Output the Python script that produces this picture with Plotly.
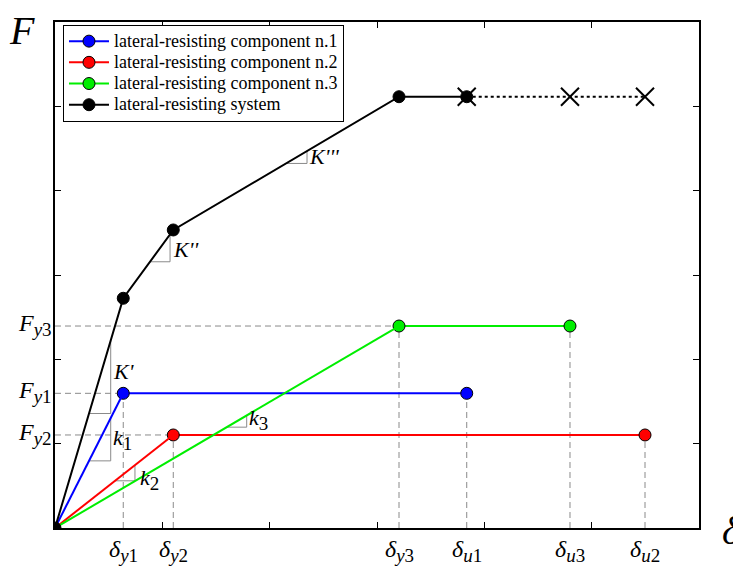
import numpy as np
import plotly.graph_objects as go

# ---- data ----
d_y1, d_y2, d_y3 = 0.636, 1.102, 3.205
d_u1, d_u3, d_u2 = 3.836, 4.798, 5.497
F_y1, F_y2, F_y3 = 1.597, 1.103, 2.395

comp1_x = [0, d_y1, d_u1]
comp1_y = [0, F_y1, F_y1]
comp2_x = [0, d_y2, d_u2]
comp2_y = [0, F_y2, F_y2]
comp3_x = [0, d_y3, d_u3]
comp3_y = [0, F_y3, F_y3]
sys_x = [0, d_y1, d_y2, d_y3, d_u1]
sys_y = [0, 2.724, 3.534, 5.114, 5.114]
sys_ext_x = [d_u1, d_u3, d_u2]
sys_ext_y = [5.114, 5.114, 5.114]

x_tick_pos = [d_y1, d_y2, d_y3, d_u1, d_u3, d_u2]
x_tick_text = ["y1", "y2", "y3", "u1", "u3", "u2"]
y_tick_pos = [F_y3, F_y1, F_y2]
y_tick_text = ["y3", "y1", "y2"]

legend_names = ["lateral-resisting component n.1", "lateral-resisting component n.2",
                "lateral-resisting component n.3", "lateral-resisting system"]
colors = ["#0000ff", "#ff0000", "#00ee00", "#000000"]

# slope triangles: label, subscript, curve, x start, x end, label x, label y
tri_names = ["K'", "k", "k", "k", "K''", "K'''"]
tri_subs = ["", "1", "2", "3", "", ""]
tri_curve = ["sys", "c1", "c2", "c3", "sys", "sys"]
tri_x0 = [0.317, 0.317, 0.559, 1.600, 0.885, 2.152]
tri_x1 = [0.519, 0.519, 0.745, 1.786, 1.072, 2.348]
tri_lx = [0.525, 0.525, 0.775, 1.790, 1.080, 2.345]
tri_ly = [1.86, 1.05, 0.57, 1.29, 3.30, 4.40]

curves = {"sys": (sys_x, sys_y), "c1": (comp1_x, comp1_y),
          "c2": (comp2_x, comp2_y), "c3": (comp3_x, comp3_y)}

FONT = "Liberation Serif, Times New Roman, serif"
GUIDE = "#8a8a8a"


def sub(t, size):
    return "<sub><span style='font-size:%dpx'>%s</span></sub>" % (size, t)


def leg(t):
    return "<span style='font-size:18px'>%s</span>" % t


fig = go.Figure()

# dashed guides
pts = [(d_y1, F_y1), (d_y2, F_y2), (d_y3, F_y3)]
for (px, py) in pts:
    fig.add_trace(go.Scatter(x=[0, px], y=[py, py], mode="lines", showlegend=False,
                             line=dict(color=GUIDE, width=1, dash="6px,4px"), hoverinfo="skip"))
vpts = [(d_y1, F_y1), (d_y2, F_y2), (d_y3, F_y3), (d_u1, F_y1), (d_u3, F_y3), (d_u2, F_y2)]
for (px, py) in vpts:
    fig.add_trace(go.Scatter(x=[px, px], y=[0, py], mode="lines", showlegend=False,
                             line=dict(color=GUIDE, width=1, dash="6px,4px"), hoverinfo="skip"))

# slope triangles
for cv, x0, x1 in zip(tri_curve, tri_x0, tri_x1):
    cx, cy = curves[cv]
    ya = float(np.interp(x0, cx, cy))
    yb = float(np.interp(x1, cx, cy))
    fig.add_trace(go.Scatter(x=[x0, x1, x1], y=[ya, ya, yb], mode="lines", showlegend=False,
                             line=dict(color=GUIDE, width=1), hoverinfo="skip"))

# components
for xs, ys, c, nm in [(comp1_x, comp1_y, colors[0], legend_names[0]),
                      (comp2_x, comp2_y, colors[1], legend_names[1]),
                      (comp3_x, comp3_y, colors[2], legend_names[2])]:
    fig.add_trace(go.Scatter(x=xs[1:], y=ys[1:], mode="lines+markers", name=leg(nm),
                             line=dict(color=c, width=2),
                             marker=dict(color=c, size=12, line=dict(color="black", width=1))))
    fig.add_trace(go.Scatter(x=xs[:2], y=ys[:2], mode="lines", showlegend=False,
                             line=dict(color=c, width=2)))

# system
fig.add_trace(go.Scatter(x=sys_ext_x, y=sys_ext_y, mode="lines", showlegend=False,
                         line=dict(color="black", width=2, dash="dot")))
fig.add_trace(go.Scatter(x=sys_x, y=sys_y, mode="lines+markers", name=leg(legend_names[3]),
                         line=dict(color="black", width=2),
                         marker=dict(color="black", size=12, line=dict(color="black", width=1))))
fig.add_trace(go.Scatter(x=sys_ext_x, y=sys_ext_y, mode="markers", showlegend=False,
                         marker=dict(symbol="x-thin-open", size=18, color="black",
                                     line=dict(color="black", width=2))))

ann = []
for name, s, lx, ly in zip(tri_names, tri_subs, tri_lx, tri_ly):
    txt = "<i>%s</i>" % name + (sub(s, 19) if s else "")
    ann.append(dict(x=lx, y=ly, xref="x", yref="y", text=txt, showarrow=False,
                    xanchor="left", yanchor="middle",
                    font=dict(family=FONT, size=22, color="black")))
for px, t in zip(x_tick_pos, x_tick_text):
    ann.append(dict(x=px, y=0, xref="x", yref="paper",
                    text="<i>δ</i>" + sub("<i>%s</i>%s" % (t[0], t[1]), 19),
                    showarrow=False, xanchor="center", yanchor="top", yshift=-6,
                    font=dict(family=FONT, size=24, color="black")))
for py, t in zip(y_tick_pos, y_tick_text):
    ann.append(dict(x=0, y=py, xref="paper", yref="y",
                    text="<i>F</i>" + sub("<i>%s</i>%s" % (t[0], t[1]), 19),
                    showarrow=False, xanchor="right", yanchor="middle", xshift=-1, yshift=1,
                    font=dict(family=FONT, size=24, color="black")))
# axis names
ann.append(dict(x=0, y=1, xref="paper", yref="paper", text="<i>F</i>", showarrow=False,
                xanchor="right", yanchor="top", xshift=-18, yshift=16,
                font=dict(family=FONT, size=40, color="black")))
ann.append(dict(x=1, y=0, xref="paper", yref="paper", text="<i>δ</i>", showarrow=False,
                xanchor="left", yanchor="middle", xshift=21, yshift=-2,
                font=dict(family=FONT, size=40, color="black")))

axis_common = dict(range=[0, 6], tickvals=[0, 1, 2, 3, 4, 5, 6], showticklabels=False,
                   ticks="inside", ticklen=6, tickwidth=1, tickcolor="black",
                   showline=True, linecolor="black", linewidth=1.5, mirror="ticks",
                   showgrid=False, zeroline=False, fixedrange=True)

fig.update_layout(
    width=741, height=574,
    margin=dict(l=47, r=50, t=14, b=54),
    paper_bgcolor="white", plot_bgcolor="white",
    xaxis=axis_common, yaxis=axis_common,
    font=dict(family=FONT, size=18, color="black"),
    legend=dict(x=0.0124, y=0.995, xanchor="left", yanchor="top",
                bgcolor="white", bordercolor="black", borderwidth=1, itemwidth=40,
                entrywidth=242, entrywidthmode="pixels",
                font=dict(family=FONT, size=14, color="black"), tracegroupgap=0),
    annotations=ann,
)

fig.write_html("out.html")
